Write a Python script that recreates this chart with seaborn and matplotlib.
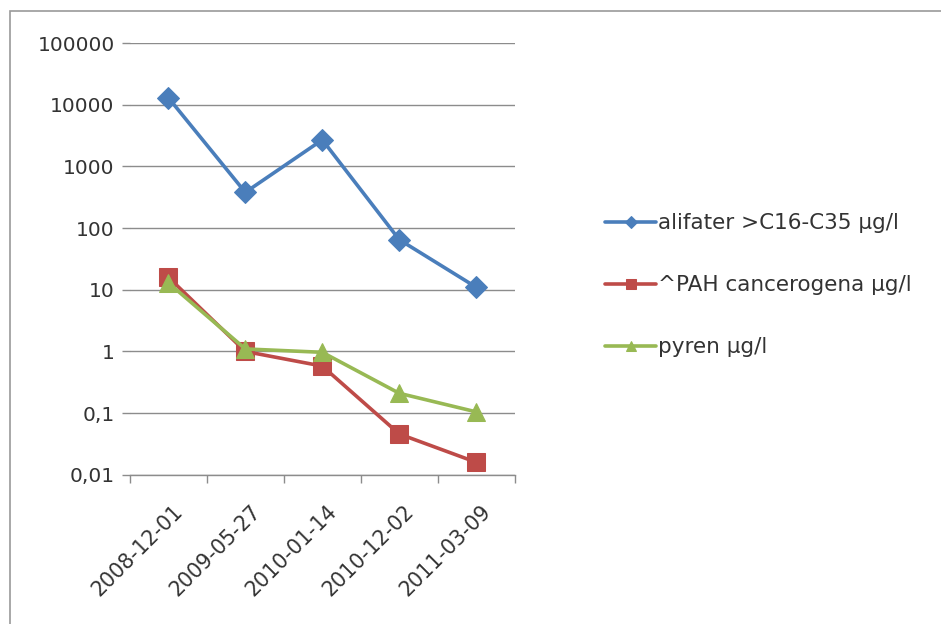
import matplotlib
matplotlib.use("Agg")
import matplotlib.pyplot as plt
import matplotlib.transforms as mtransforms
from matplotlib.ticker import FixedLocator
from matplotlib.patches import Rectangle
import pandas as pd
import seaborn as sns

sns.set_theme(style="white")
plt.rcParams["font.family"] = ["DejaVu Sans"]

dates = ["2008-12-01", "2009-05-27", "2010-01-14", "2010-12-02", "2011-03-09"]
alifater = [13000, 380, 2700, 65, 11]
pah = [16, 1.0, 0.58, 0.046, 0.016]
pyren = [13, 1.1, 0.97, 0.21, 0.105]

series_names = ["alifater >C16-C35 µg/l", "^PAH cancerogena µg/l", "pyren µg/l"]
series_values = [alifater, pah, pyren]
colors = ["#4A7EBB", "#BE4B48", "#98B954"]
markers = ["D", "s", "^"]
msizes = [11, 13, 13]

ytick_vals = [0.01, 0.1, 1, 10, 100, 1000, 10000, 100000]
ytick_labels = ["0,01", "0,1", "1", "10", "100", "1000", "10000", "100000"]

fig = plt.figure(figsize=(9.41, 6.24), dpi=100)
ax = fig.add_axes([0.138, 0.239, 0.409, 0.692])

for name, vals, c, m, ms in zip(series_names, series_values, colors, markers, msizes):
    df = pd.DataFrame({"date": range(len(dates)), "value": vals})
    sns.lineplot(data=df, x="date", y="value", ax=ax, color=c, marker=m,
                 markersize=ms, markeredgecolor=c, linewidth=2.6, label=name)

ax.set_yscale("log")
ax.set_ylim(0.01, 100000)
ax.set_xlim(-0.5, len(dates) - 0.5)
ax.yaxis.set_major_locator(FixedLocator(ytick_vals))
ax.yaxis.set_minor_locator(FixedLocator([]))
ax.set_yticklabels(ytick_labels, fontsize=14.5, color="#333333")
ax.set_xticks(range(len(dates)))
ax.set_xticks([i - 0.5 for i in range(len(dates) + 1)], minor=True)
ax.set_xticklabels(dates, rotation=45, ha="right", va="center",
                   rotation_mode="anchor", fontsize=14.8, color="#333333")
ax.tick_params(axis="x", which="major", length=0, pad=24)
ax.tick_params(axis="x", which="minor", length=6, color="#8c8c8c", width=1, bottom=True)
ax.tick_params(axis="y", which="major", length=6, color="#8c8c8c", width=1, left=True, pad=5)
# nudge rotated date labels to the right, like the spreadsheet layout
shift = mtransforms.ScaledTranslation(8.5 / 72, 0, fig.dpi_scale_trans)
for lbl in ax.get_xticklabels():
    lbl.set_transform(lbl.get_transform() + shift)
ax.set_xlabel("")
ax.set_ylabel("")
ax.grid(axis="y", color="#8c8c8c", linewidth=1)
ax.grid(axis="x", visible=False)
for side in ["top", "right", "left"]:
    ax.spines[side].set_visible(False)
ax.spines["bottom"].set_color("#8c8c8c")
ax.spines["bottom"].set_linewidth(1)

handles, labels = ax.get_legend_handles_labels()
ax.get_legend().remove()
fig.legend(handles, labels, loc="center left", bbox_to_anchor=(0.622, 0.543),
           frameon=False, fontsize=15.5, labelspacing=1.95, handlelength=2.4,
           handletextpad=0.1, markerscale=0.6, labelcolor="#333333")

fig.add_artist(Rectangle((0.0106, -0.01), 1.0, 0.992, transform=fig.transFigure,
                         fill=False, edgecolor="#9a9a9a", linewidth=1.2))

fig.savefig("out.png", dpi=100)
